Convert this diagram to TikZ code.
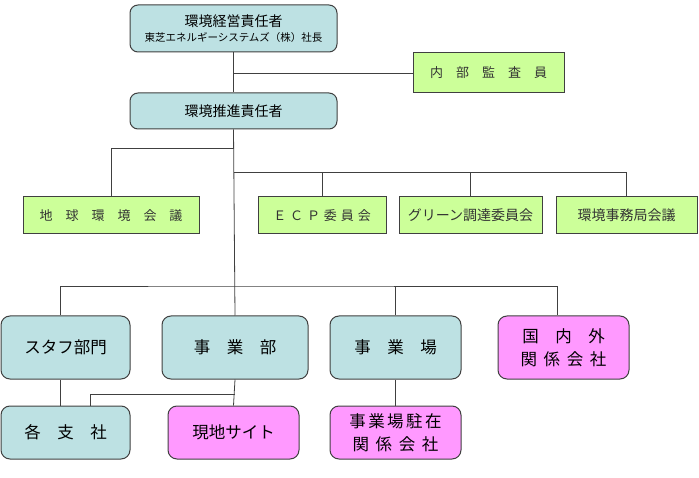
\documentclass[tikz,border=0pt]{standalone}
\usepackage{fontspec}
\setmainfont{Noto Sans CJK JP}
\usepackage{tikz}
\usepackage{xcolor}
\definecolor{boxblue}{HTML}{BDE1E3}
\definecolor{boxgreen}{HTML}{CCFF99}
\definecolor{boxpink}{HTML}{FF99FF}
\definecolor{edgegray}{HTML}{404040}

\begin{document}
\begin{tikzpicture}[
  x=1pt, y=-1pt,
  base/.style={draw=edgegray, line width=1pt, inner sep=0pt, align=center, text=black},
  head/.style={base, rounded corners=8pt, fill=boxblue, minimum width=207pt},
  council/.style={base, rectangle, fill=boxgreen, minimum height=37pt, text=black!80, font=\fontsize{13}{15}\selectfont},
  unit/.style={base, rounded corners=9pt, fill=boxblue, minimum height=63pt, font=\fontsize{16.5}{23}\selectfont},
  affil/.style={base, rounded corners=9pt, fill=boxpink, font=\fontsize{16.5}{23}\selectfont},
  link/.style={draw=edgegray, line width=0.8pt}
]
\useasboundingbox (0,0) rectangle (699,478);

% Management
\node[head, minimum height=47pt, font=\fontsize{10.5}{15}\selectfont] (manager) at (233.5,28.5)
  {{\fontsize{14}{15}\selectfont 環境経営責任者}\\東芝エネルギーシステムズ（株）社長};
\node[council, minimum width=151pt, minimum height=40pt] (audit) at (488.5,73) {内　部　監　査　員};
\node[head, minimum height=36pt, font=\fontsize{14}{16}\selectfont] (promoter) at (233.5,111) {環境推進責任者};

% Councils
\node[council, minimum width=176pt] (globe) at (111,215.5) {地　球　環　境　会　議};
\node[council, minimum width=128pt] (ecp) at (322,215.5) {Ｅ\hspace{0.3em}Ｃ\hspace{0.3em}Ｐ\hspace{0.3em}委\hspace{0.3em}員\hspace{0.3em}会};
\node[council, minimum width=143pt, font=\fontsize{14}{16}\selectfont] (green) at (470.5,215.5) {グリーン調達委員会};
\node[council, minimum width=141pt, font=\fontsize{14}{16}\selectfont] (office) at (626.5,215.5) {環境事務局会議};

% Units
\node[unit, minimum width=129pt] (staff) at (65.5,347.5) {スタフ部門};
\node[unit, minimum width=146pt] (division) at (235,347.5) {事　業　部};
\node[unit, minimum width=131pt] (site) at (395.5,347.5) {事　業　場};
\node[affil, minimum width=131pt, minimum height=63pt] (overseas) at (563.5,347.5)
  {国　内　外\\関\hspace{0.4em}係\hspace{0.4em}会\hspace{0.4em}社};

% Branches
\node[unit, minimum width=129pt, minimum height=53pt] (branch) at (65.5,432.5) {各　支　社};
\node[affil, minimum width=131pt, minimum height=53pt] (local) at (233.5,432.5) {現地サイト};
\node[affil, minimum width=131pt, minimum height=53pt] (resident) at (395.5,432.5)
  {事\hspace{0.15em}業\hspace{0.15em}場\hspace{0.15em}駐\hspace{0.15em}在\\関\hspace{0.4em}係\hspace{0.4em}会\hspace{0.4em}社};

% Bus points
\coordinate (busglobe) at (234,148);
\coordinate (buscouncil) at (234,172);
\coordinate (busunit) at (234,286);
\coordinate (busbranch) at (90,394);

% Lines
\draw[link] (manager) -- (promoter);
\draw[link] (audit.west) -- (audit.west -| manager.south);
\draw[link] (promoter.south) -- (division.north);
\draw[link] (globe.north) |- (busglobe);
\draw[link] (buscouncil) -| (office.north);
\draw[link] (ecp.north) -- (ecp.north |- buscouncil);
\draw[link] (green.north) -- (green.north |- buscouncil);
\draw[link] ([xshift=-5pt]staff.north) |- (busunit) -| ([xshift=-6pt]overseas.north);
\draw[link] (site.north) -- (site.north |- busunit);
\draw[link] ([xshift=-5pt]staff.south) -- ([xshift=-5pt]branch.north);
\draw[link] (site) -- (resident);
\draw[link] (division.south) -- (local.north);
\draw[link] (division.south |- busbranch) -- (busbranch) -- (busbranch |- branch.north);

\end{tikzpicture}
\end{document}
